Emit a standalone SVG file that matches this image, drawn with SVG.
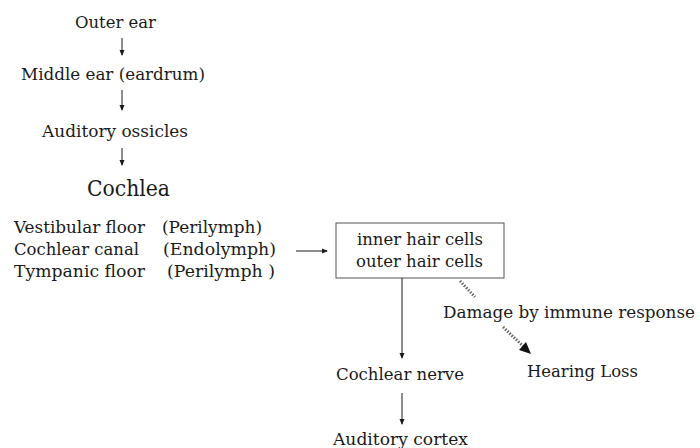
<svg xmlns="http://www.w3.org/2000/svg" width="700" height="448" viewBox="0 0 700 448">
<style>
text{font-family:"DejaVu Serif","Liberation Serif",serif;font-size:17px;fill:#1a1a1a}
.big{font-size:22px}
.ln{stroke:#1a1a1a;stroke-width:1;fill:none}
.dot{stroke:#666;stroke-width:3;stroke-dasharray:1.5 1.5;fill:none}
</style>
<defs>
<marker id="ah" markerWidth="6" markerHeight="6" refX="5" refY="3" orient="auto" markerUnits="userSpaceOnUse">
<path d="M0,0.5 L6,3 L0,5.5 Z" fill="#1a1a1a"/>
</marker>
</defs>
<rect width="700" height="448" fill="#fff"/>
<g id="outer-ear"><text x="75" y="28" textLength="81" lengthAdjust="spacingAndGlyphs">Outer ear</text></g>
<g id="middle-ear"><text x="21" y="80" textLength="184" lengthAdjust="spacingAndGlyphs">Middle ear (eardrum)</text></g>
<g id="ossicles"><text x="42" y="137" textLength="146" lengthAdjust="spacingAndGlyphs">Auditory ossicles</text></g>
<g id="cochlea"><text class="big" x="87" y="196" textLength="83" lengthAdjust="spacingAndGlyphs">Cochlea</text></g>
<g id="cochlea-parts">
<text x="14" y="233" textLength="131" lengthAdjust="spacingAndGlyphs">Vestibular floor</text>
<text x="162" y="233" textLength="100" lengthAdjust="spacingAndGlyphs">(Perilymph)</text>
<text x="14" y="255" textLength="125" lengthAdjust="spacingAndGlyphs">Cochlear canal</text>
<text x="163" y="255" textLength="113" lengthAdjust="spacingAndGlyphs">(Endolymph)</text>
<text x="14" y="277" textLength="131" lengthAdjust="spacingAndGlyphs">Tympanic floor</text>
<text x="167" y="277" textLength="108" lengthAdjust="spacingAndGlyphs">(Perilymph )</text>
</g>
<g id="hair-cells">
<rect x="336" y="223" width="168" height="55" fill="#fff" stroke="#555" stroke-width="1"/>
<text x="357" y="245" textLength="126" lengthAdjust="spacingAndGlyphs">inner hair cells</text>
<text x="356" y="267" textLength="127" lengthAdjust="spacingAndGlyphs">outer hair cells</text>
</g>
<g id="damage"><text x="443" y="318" textLength="252" lengthAdjust="spacingAndGlyphs">Damage by immune response</text></g>
<g id="hearing-loss"><text x="527" y="377" textLength="111" lengthAdjust="spacingAndGlyphs">Hearing Loss</text></g>
<g id="cochlear-nerve"><text x="336" y="380" textLength="128" lengthAdjust="spacingAndGlyphs">Cochlear nerve</text></g>
<g id="auditory-cortex"><text x="333" y="445" textLength="135" lengthAdjust="spacingAndGlyphs">Auditory cortex</text></g>
<g id="connectors">
<line class="ln" x1="122" y1="38" x2="122" y2="55" marker-end="url(#ah)"/>
<line class="ln" x1="122" y1="90" x2="122" y2="110" marker-end="url(#ah)"/>
<line class="ln" x1="122" y1="148" x2="122" y2="165" marker-end="url(#ah)"/>
<line class="ln" x1="296" y1="251" x2="327" y2="251" marker-end="url(#ah)"/>
<line class="ln" x1="402" y1="278" x2="402" y2="358" marker-end="url(#ah)"/>
<line class="ln" x1="402" y1="393" x2="402" y2="424" marker-end="url(#ah)"/>
<line class="dot" x1="460" y1="281" x2="475" y2="297"/>
<line class="dot" x1="503" y1="327" x2="524" y2="347"/>
<path d="M519,350 L531,354 L526,342 Z" fill="#111"/>
</g>
</svg>
